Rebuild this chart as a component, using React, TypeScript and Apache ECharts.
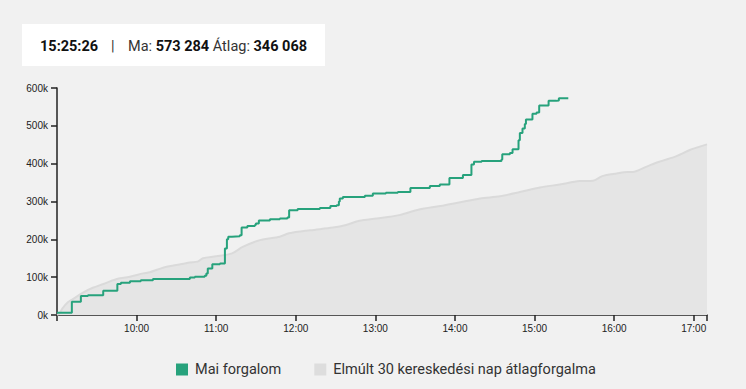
import React, { useEffect, useRef } from "react";
import * as echarts from "echarts";

const headerTime = "15:25:26";
const todayTotal = "573 284";
const avgTotal = "346 068";

const xTickLabels = ["10:00", "11:00", "12:00", "13:00", "14:00", "15:00", "16:00", "17:00"];
const yTickLabels = ["0k", "100k", "200k", "300k", "400k", "500k", "600k"];

const todayTimes = ["09:00:00","09:11:12","09:18:00","09:23:20","09:34:50","09:45:30","09:48:10","09:55:00","10:03:10","10:12:20","10:40:10","10:43:55","10:51:20","10:52:35","10:53:40","10:57:05","11:02:50","11:06:35","11:08:05","11:09:05","11:11:50","11:17:50","11:19:10","11:23:30","11:29:10","11:29:55","11:32:10","11:40:30","11:48:00","11:53:40","11:55:00","12:01:25","12:18:10","12:26:05","12:30:50","12:32:30","12:33:10","12:35:30","12:52:05","12:58:05","13:07:55","13:16:55","13:26:25","13:41:05","13:48:35","13:55:50","14:06:00","14:12:25","14:14:20","14:20:05","14:35:05","14:35:40","14:41:25","14:43:25","14:47:55","14:48:55","14:50:55","14:52:40","14:53:30","14:58:25","15:01:30","15:03:30","15:10:35","15:16:35","15:18:20","15:25:26"];
const todayValues = [6000,35000,50000,52000,64000,82000,85000,89000,92000,95000,99000,101000,104000,110000,123000,134000,136000,176000,200000,207000,208000,211000,231000,235000,238000,242000,250000,253000,255000,258000,277000,280000,283000,288000,290000,300000,308000,312000,315000,321000,323000,325000,336000,341000,345000,362000,370000,398000,405000,407000,411000,425000,428000,438000,462000,481000,493000,505000,517000,532000,535000,554000,566000,567000,573000,573284];

const avgTimes = ["09:00","09:02","09:04","09:08","09:12","09:19","09:27","09:35","09:44","09:55","10:05","10:10","10:20","10:30","10:40","10:46","10:50","11:00","11:12","11:20","11:33","11:48","11:55","12:11","12:28","12:38","12:48","13:01","13:18","13:33","13:49","14:04","14:19","14:34","14:49","15:04","15:19","15:34","15:44","15:51","16:02","16:10","16:14","16:25","16:34","16:47","16:57","17:10"];
const avgValues = [0,5000,17000,33000,42000,58000,72000,82000,94000,101000,110000,113000,125000,132000,139000,141000,150000,155000,163000,180000,198000,207000,216000,224000,231000,238000,249000,255000,264000,279000,288000,298000,308000,314000,325000,337000,345000,354000,355000,367000,374000,378000,378000,393000,405000,420000,436000,451000];

const seriesNames = ["Mai forgalom", "Elmúlt 30 kereskedési nap átlagforgalma"];

const DAY_START = 9 * 60;
const toMin = (t: string) => {
  const p = t.split(":").map(Number);
  return p[0] * 60 + p[1] + (p[2] || 0) / 60 - DAY_START;
};

export default function App() {
  const ref = useRef<HTMLDivElement>(null);
  useEffect(() => {
    if (!ref.current) return;
    const chart = echarts.init(ref.current, null, { renderer: "svg" });
    const axisFont = "Liberation Sans, Arial, sans-serif";
    const tickMap: Record<number, string> = {};
    xTickLabels.forEach((l) => { tickMap[toMin(l)] = l; });
    chart.setOption({
      animation: false,
      backgroundColor: "#f1f1f1",
      grid: { left: 57, right: 39, top: 88, bottom: 74, containLabel: false },
      xAxis: {
        type: "value",
        min: 0,
        max: toMin("17:10"),
        interval: 60,
        axisLine: { show: true, lineStyle: { color: "#222", width: 1.5 } },
        axisTick: { show: true, length: 6, lineStyle: { color: "#222", width: 1.5 } },
        splitLine: { show: false },
        axisLabel: {
          margin: 8,
          fontSize: 10,
          fontFamily: axisFont,
          color: "#222",
          formatter: (v: number) => tickMap[Math.round(v)] || "",
        },
      },
      yAxis: {
        type: "value",
        min: 0,
        max: 600000,
        interval: 100000,
        axisLine: { show: true, lineStyle: { color: "#222", width: 1.5 } },
        axisTick: { show: true, length: 6, lineStyle: { color: "#222", width: 1.5 } },
        splitLine: { show: false },
        axisLabel: {
          margin: 9,
          fontSize: 10,
          fontFamily: axisFont,
          color: "#222",
          formatter: (v: number) => yTickLabels[Math.round(v / 100000)] || "",
        },
      },
      legend: {
        left: 176,
        top: 362,
        padding: 0,
        itemWidth: 12,
        itemHeight: 12,
        itemGap: 33,
        icon: "rect",
        textStyle: { fontFamily: "Roboto", fontSize: 14.5, color: "#333", padding: [0, 0, 0, 2] },
        data: seriesNames,
      },
      series: [
        {
          name: seriesNames[1],
          type: "line",
          data: avgTimes.map((t, i) => [toMin(t), avgValues[i]]),
          symbol: "none",
          smooth: 0.3,
          z: 1,
          itemStyle: { color: "#dddddd" },
          lineStyle: { color: "#dadada", width: 2 },
          areaStyle: { color: "#e5e5e5", opacity: 1 },
        },
        {
          name: seriesNames[0],
          type: "line",
          step: "end",
          data: todayTimes.map((t, i) => [toMin(t), todayValues[i]]),
          symbol: "none",
          z: 3,
          itemStyle: { color: "#27a27c" },
          lineStyle: { color: "#27a27c", width: 2 },
        },
      ],
      graphic: [
        { type: "rect", shape: { x: 22, y: 24, width: 303, height: 42 }, style: { fill: "#ffffff" } },
        {
          type: "text",
          x: 40,
          y: 46,
          style: { text: headerTime, font: "bold 14.5px Roboto", fill: "#111", verticalAlign: "middle" },
        },
        {
          type: "text",
          x: 111,
          y: 46,
          style: { text: "|", font: "14.5px Roboto", fill: "#333", verticalAlign: "middle" },
        },
        {
          type: "text",
          x: 128,
          y: 46,
          style: {
            text: "Ma: {b|" + todayTotal + "} Átlag: {b|" + avgTotal + "}",
            font: "14.5px Roboto",
            fill: "#333",
            verticalAlign: "middle",
            rich: { b: { fontWeight: "bold", fontSize: 14.5, fontFamily: "Roboto", fill: "#111" } },
          },
        },
      ],
    });
    return () => chart.dispose();
  }, []);
  return (
    <div style={{ position: "absolute", left: 0, top: 0, width: 746, height: 389, background: "#f1f1f1" }}>
      <div ref={ref} style={{ width: 746, height: 389 }} />
    </div>
  );
}
